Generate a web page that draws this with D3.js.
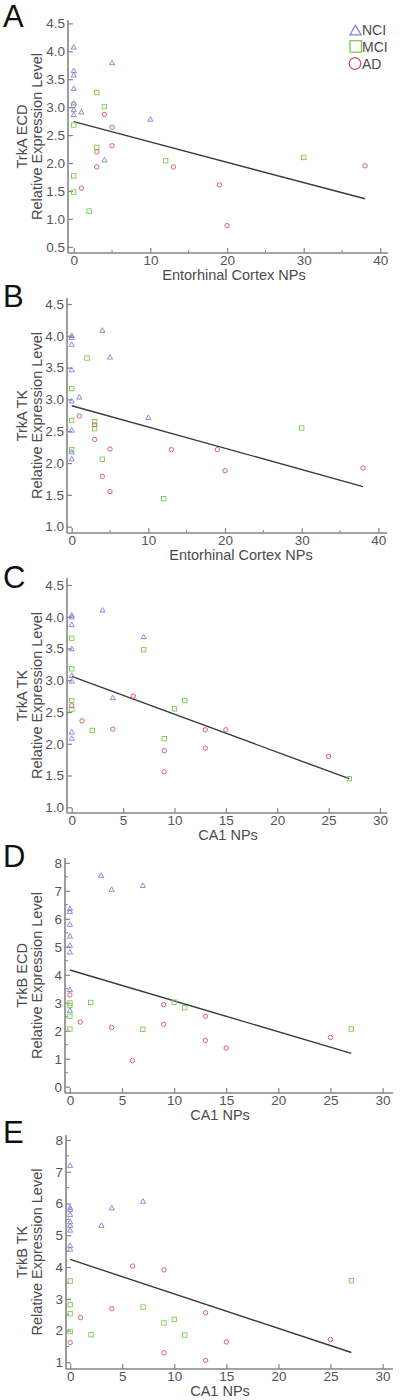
<!DOCTYPE html>
<html><head><meta charset="utf-8">
<script src="https://cdn.jsdelivr.net/npm/d3@7"></script>
<style>
html,body{margin:0;padding:0;background:#fff;}
svg{display:block;}
text{font-family:"Liberation Sans",Arial,sans-serif;}
</style></head>
<body>
<svg id="chart" width="400" height="1400"></svg>
<script>
// ---------------- DATA ----------------
const groups = ["NCI", "MCI", "AD"];
const panelLetters = ["A", "B", "C", "D", "E"];
const yTitles = ["TrkA ECD", "TrkA TK", "TrkA TK", "TrkB ECD", "TrkB TK"];
const xTitles = ["Entorhinal Cortex NPs", "Entorhinal Cortex NPs", "CA1 NPs", "CA1 NPs", "CA1 NPs"];

const A_NCI = [[0,4.08],[0,3.66],[0,3.58],[0,3.34],[0,3.08],[0,2.96],[0,2.87],[1,2.92],[5,3.80],[10,2.79],[4,2.06]];
const A_MCI = [[0,3.04],[0,2.68],[0,1.77],[0,1.48],[3,3.26],[4,3.01],[3,2.28],[2,1.14],[12,2.04],[30,2.10]];
const A_AD  = [[4,2.87],[5,2.64],[5,2.31],[3,2.20],[3,1.93],[1,1.55],[13,1.93],[19,1.61],[20,0.88],[38,1.95]];
const A_FIT = [[0,2.74],[38,1.36]];

const B_NCI = [[0,4.01],[0,3.98],[0,3.87],[0,3.47],[0,2.98],[0,2.52],[0,2.18],[0,2.07],[1,3.04],[4,4.09],[5,3.67],[10,2.72]];
const B_MCI = [[2,3.65],[0,3.17],[0,2.67],[0,2.21],[3,2.65],[3,2.54],[4,2.06],[12,1.44],[30,2.55]];
const B_AD  = [[1,2.74],[3,2.60],[3,2.37],[5,2.22],[4,1.79],[5,1.55],[13,2.21],[19,2.21],[20,1.88],[38,1.92]];
const B_FIT = [[0,2.90],[38,1.63]];

const C_NCI = [[0,4.03],[0,4.00],[0,3.88],[0,3.50],[0,3.08],[0,2.99],[0,2.19],[0,2.09],[3,4.11],[7,3.69],[4,2.73]];
const C_MCI = [[0,3.66],[0,3.18],[0,2.68],[0,2.54],[7,3.48],[2,2.21],[9,2.08],[10,2.55],[11,2.68],[27,1.45]];
const C_AD  = [[0,2.60],[1,2.36],[4,2.23],[6,2.75],[9,1.89],[9,1.56],[13,2.22],[13,1.93],[15,2.22],[25,1.80]];
const C_FIT = [[0,3.06],[27,1.45]];

const D_NCI = [[3,7.56],[4,7.06],[7,7.20],[0,6.37],[0,6.27],[0,5.81],[0,5.39],[0,5.06],[0,4.82],[0,3.48],[0,2.74]];
const D_MCI = [[0,2.99],[0,2.90],[0,2.52],[0,2.06],[2,3.01],[7,2.05],[10,3.02],[11,2.82],[27,2.06]];
const D_AD  = [[0,3.28],[1,2.31],[4,2.12],[6,0.93],[9,2.93],[9,2.23],[13,2.52],[13,1.65],[15,1.38],[25,1.76]];
const D_FIT = [[0,4.17],[27,1.19]];

const E_NCI = [[0,7.21],[0,5.88],[0,5.82],[0,5.66],[0,5.43],[0,5.32],[0,5.17],[0,4.69],[0,4.57],[3,5.32],[4,5.87],[7,6.08]];
const E_MCI = [[0,3.56],[0,2.81],[0,2.53],[0,1.97],[2,1.87],[7,2.74],[9,2.24],[10,2.35],[11,1.86],[27,3.57]];
const E_AD  = [[0,1.62],[1,2.41],[4,2.69],[6,4.03],[9,3.91],[9,1.30],[13,2.56],[13,1.06],[15,1.64],[25,1.72]];
const E_FIT = [[0,4.24],[27,1.31]];

const yTicksAC = [0.5,1.0,1.5,2.0,2.5,3.0,3.5,4.0,4.5];
const yTicksBC = [1.0,1.5,2.0,2.5,3.0,3.5,4.0,4.5];
const yTicksD = [0,1,2,3,4,5,6,7,8];
const yTicksE = [1,2,3,4,5,6,7,8];
const xTicks40 = [0,10,20,30,40];
const xTicks30 = [0,5,10,15,20,25,30];

// ---------------- LAYOUT ----------------
const layout = [
  {left:68, right:388, top:20,   bottom:253,  xDom:[-0.75,41.0], yDom:[0.39,4.56], letterY:27,   xTitleX:234, yFmt:".1f", yMinor:null, xMinor:[5,15,25,35]},
  {left:67, right:387, top:298,  bottom:533,  xDom:[-0.61,41.13], yDom:[0.90,4.594], letterY:307, xTitleX:241, yFmt:".1f", yMinor:null, xMinor:[5,15,25,35]},
  {left:67, right:387, top:578,  bottom:813,  xDom:[-0.46,30.68], yDom:[0.91,4.61], letterY:588, xTitleX:228, yFmt:".1f", yMinor:null, xMinor:null},
  {left:65, right:393, top:858,  bottom:1093, xDom:[-0.47,31.0], yDom:[-0.225,8.17], letterY:867, xTitleX:220, yFmt:"d", yMinor:0.5, xMinor:null},
  {left:66, right:393, top:1135, bottom:1369, xDom:[-0.40,31.0], yDom:[0.79,8.157], letterY:1143, xTitleX:220, yFmt:"d", yMinor:0.5, xMinor:null}
];
const panelData = [
  {nci:A_NCI, mci:A_MCI, ad:A_AD, fit:A_FIT, yt:yTicksAC, xt:xTicks40},
  {nci:B_NCI, mci:B_MCI, ad:B_AD, fit:B_FIT, yt:yTicksBC, xt:xTicks40},
  {nci:C_NCI, mci:C_MCI, ad:C_AD, fit:C_FIT, yt:yTicksBC, xt:xTicks30},
  {nci:D_NCI, mci:D_MCI, ad:D_AD, fit:D_FIT, yt:yTicksD, xt:xTicks30},
  {nci:E_NCI, mci:E_MCI, ad:E_AD, fit:E_FIT, yt:yTicksE, xt:xTicks30}
];

const colNCI = "#7f7fd8", colMCI = "#7ccc4c", colAD = "#d2506c";
const axisCol = "#858585", textCol = "#4a4a4a";

const svg = d3.select("#chart");

function triPath(cx, cy, s) {
  const h = s * 0.87;
  return `M${cx},${cy - h/2}L${cx + s/2},${cy + h/2}L${cx - s/2},${cy + h/2}Z`;
}

layout.forEach((L, i) => {
  const D = panelData[i];
  const g = svg.append("g");
  const x = d3.scaleLinear().domain(L.xDom).range([L.left, L.right]);
  const y = d3.scaleLinear().domain(L.yDom).range([L.bottom, L.top]);

  // axes
  const yAxis = d3.axisLeft(y).tickValues(D.yt).tickFormat(d3.format(L.yFmt)).tickSizeInner(-5).tickSizeOuter(0).tickPadding(3);
  const xAxis = d3.axisBottom(x).tickValues(D.xt).tickFormat(d3.format("d")).tickSizeInner(-5).tickSizeOuter(0).tickPadding(2);
  const ga = g.append("g").attr("transform", `translate(${L.left},0)`).call(yAxis);
  const gb = g.append("g").attr("transform", `translate(0,${L.bottom})`).call(xAxis);
  [ga, gb].forEach(a => {
    a.select(".domain").attr("stroke", axisCol).attr("stroke-width", 1.6);
    a.selectAll(".tick line").attr("stroke", axisCol).attr("stroke-width", 1.2);
    a.selectAll(".tick text").attr("fill", "#555").style("font-size", "13.5px").style("font-family", "Liberation Sans, Arial, sans-serif");
  });
  // full-length axis lines
  ga.select(".domain").attr("d", `M0,${L.top}V${L.bottom}`);
  gb.select(".domain").attr("d", `M${L.left},0H${L.right}`);

  // minor ticks
  if (L.yMinor) {
    const mv = d3.range(Math.ceil(L.yDom[0]), L.yDom[1], 1).map(v => v + L.yMinor).filter(v => v < L.yDom[1] - 0.1);
    g.selectAll(".ymin").data(mv).enter().append("line")
      .attr("x1", L.left).attr("x2", L.left + 3)
      .attr("y1", d => y(d)).attr("y2", d => y(d))
      .attr("stroke", axisCol).attr("stroke-width", 1);
  }
  if (L.xMinor) {
    g.selectAll(".xmin").data(L.xMinor).enter().append("line")
      .attr("x1", d => x(d)).attr("x2", d => x(d))
      .attr("y1", L.bottom).attr("y2", L.bottom - 3)
      .attr("stroke", axisCol).attr("stroke-width", 1);
  }

  // regression line
  g.append("path").datum(D.fit)
    .attr("d", d3.line().x(d => x(d[0])).y(d => y(d[1])))
    .attr("fill", "none").attr("stroke", "#3a3a3a").attr("stroke-width", 1.4);

  // points
  g.selectAll(".mci").data(D.mci).enter().append("rect")
    .attr("x", d => x(d[0]) - 2.2).attr("y", d => y(d[1]) - 2.2)
    .attr("width", 4.4).attr("height", 4.4)
    .attr("fill", "none").attr("stroke", colMCI).attr("stroke-width", 0.9);
  g.selectAll(".ad").data(D.ad).enter().append("circle")
    .attr("cx", d => x(d[0])).attr("cy", d => y(d[1])).attr("r", 2.2)
    .attr("fill", "none").attr("stroke", colAD).attr("stroke-width", 0.9);
  g.selectAll(".nci").data(D.nci).enter().append("path")
    .attr("d", d => triPath(x(d[0]), y(d[1]), 5.2))
    .attr("fill", "none").attr("stroke", colNCI).attr("stroke-width", 0.9);

  // titles
  g.append("text").attr("x", 3).attr("y", L.letterY).text(panelLetters[i])
    .style("font-size", "31px").attr("fill", "#111");
  const cy = (L.top + L.bottom) / 2;
  g.append("text").attr("transform", `translate(27,${cy}) rotate(-90)`).attr("text-anchor", "middle")
    .text(yTitles[i]).style("font-size", "14.5px").attr("fill", textCol);
  g.append("text").attr("transform", `translate(42,${cy}) rotate(-90)`).attr("text-anchor", "middle")
    .text("Relative Expression Level").style("font-size", "14.5px").attr("fill", textCol);
  g.append("text").attr("x", L.xTitleX).attr("y", L.bottom + 27).attr("text-anchor", "middle")
    .text(xTitles[i]).style("font-size", "14.5px").attr("fill", textCol);
});

// legend (panel A)
const lg = svg.append("g");
const legY = [30, 46.5, 63.5];
lg.append("path").attr("d", triPath(355.5, legY[0], 11)).attr("fill", "none").attr("stroke", colNCI).attr("stroke-width", 1.3);
lg.append("rect").attr("x", 350).attr("y", legY[1] - 5.8).attr("width", 11.5).attr("height", 11.5).attr("fill", "none").attr("stroke", colMCI).attr("stroke-width", 1.3);
lg.append("circle").attr("cx", 355).attr("cy", legY[2]).attr("r", 5.8).attr("fill", "none").attr("stroke", colAD).attr("stroke-width", 1.3);
lg.selectAll(".lt").data(groups).enter().append("text")
  .attr("x", 362).attr("y", (d, k) => legY[k] + 5)
  .text(d => d).style("font-size", "14px").attr("fill", textCol);
</script>
</body></html>
